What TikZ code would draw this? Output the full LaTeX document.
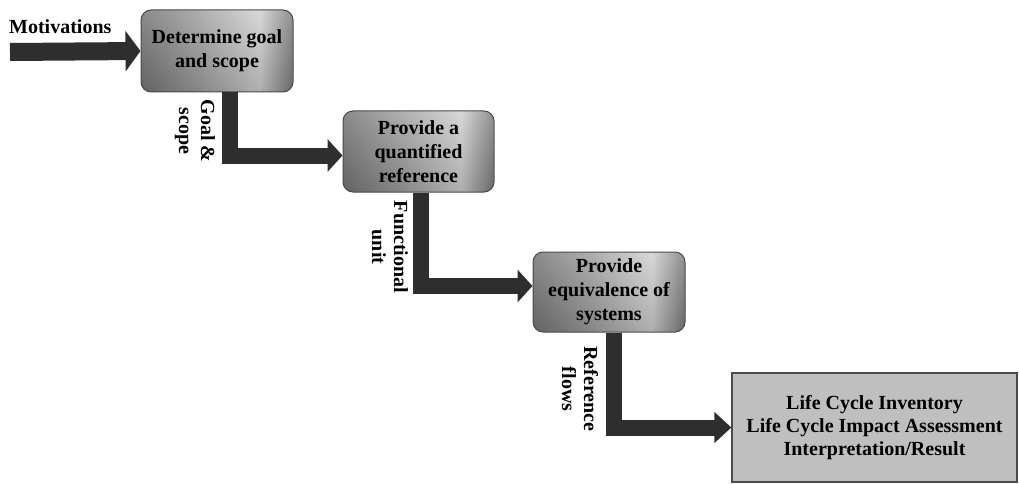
\documentclass[tikz,border=0pt]{standalone}
\usepackage{fontspec}
\setmainfont{Liberation Serif}
\usetikzlibrary{arrows.meta,calc}
\pgfdeclarehorizontalshading{metal}{100bp}{color(0bp)=(black!45); color(25bp)=(black!45); color(45bp)=(black!24); color(64bp)=(black!2); color(75bp)=(black!42); color(100bp)=(black!42)}
\definecolor{arrowgray}{HTML}{2E2E2E}
\definecolor{bordergray}{HTML}{4A4A4A}
\definecolor{boxgray}{HTML}{BFBFBF}
\begin{document}
\begin{tikzpicture}[x=1pt,y=-1pt,
  every node/.style={font=\bfseries\fontsize{20}{24}\selectfont},
  stepbox/.style={draw=bordergray, line width=1pt, rounded corners=10pt, shade, shading=metal, align=center, inner sep=0pt,
    path picture={\fill[top color=white, bottom color=black, opacity=0.16] (path picture bounding box.south west) rectangle (path picture bounding box.north east);}},
  flow/.style={draw=arrowgray, line width=16pt, line join=miter, -{Triangle[width=32pt,length=15pt]}},
  flowlabel/.style={rotate=-90, align=center, inner sep=0pt, font=\bfseries\fontsize{20}{22}\selectfont}]
\useasboundingbox (0,0) rectangle (1019,484);

\node[stepbox, minimum width=152pt, minimum height=82pt] (b1) at (217,51) {Determine goal\\and scope};
\node[stepbox, minimum width=151pt, minimum height=81pt] (b2) at (418.5,151.5) {Provide a\\quantified\\reference};
\node[stepbox, minimum width=152pt, minimum height=80pt] (b3) at (609,292) {Provide\\equivalence of\\systems};
\node[draw=bordergray, line width=1.2pt, fill=boxgray, minimum width=285pt, minimum height=109pt, align=center, inner sep=0pt, font=\bfseries\fontsize{20}{23}\selectfont] (b4) at (874.5,427.5) {Life Cycle Inventory\\Life Cycle Impact Assessment\\Interpretation/Result};

\node[anchor=base west, inner sep=0pt] (mot) at (9,34) {Motivations};
\coordinate (m0) at (10,52);

\draw[flow, line width=18pt, -{Triangle[width=40pt,length=15pt]}] (m0) -- (b1.west);
\draw[flow] ($(b1.south)+(13,0)$) |- ($(b2.west)+(0,4)$);
\draw[flow] ($(b2.south)+(2.5,0)$) |- ($(b3.west)+(0,-6)$);
\draw[flow, -{Triangle[width=30pt,length=17pt]}] ($(b3.south)+(4.5,0)$) |- (b4.west);

\node[flowlabel] (l1) at (195,131) {Goal \&\\scope};
\node[flowlabel] (l2) at (390,247) {Functional\\unit};
\node[flowlabel] (l3) at (580,389) {Reference\\flows};
\end{tikzpicture}
\end{document}
